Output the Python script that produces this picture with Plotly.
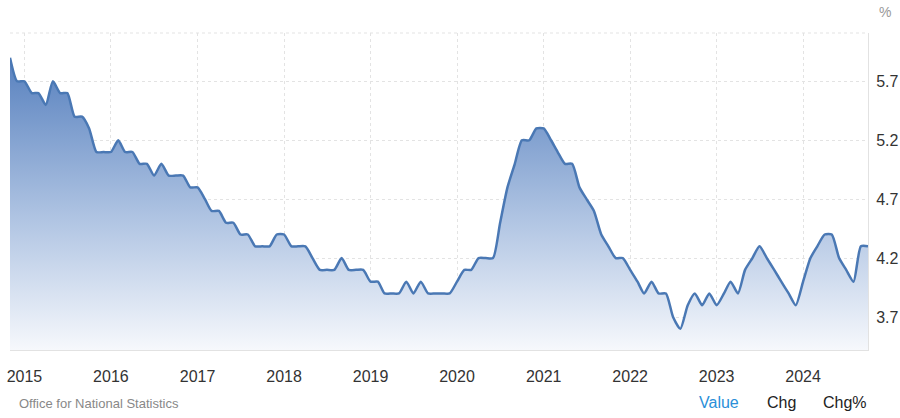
import pandas as pd
import plotly.graph_objects as go

# Monthly observations, Nov 2014 .. Oct 2024
start_month = "2014-11-01"
n_months = 120
months = pd.date_range(start_month, periods=n_months, freq="MS")

unemployment_rate = [
    5.9, 5.7, 5.7, 5.6, 5.6, 5.5, 5.7, 5.6, 5.6, 5.4, 5.4, 5.3,   # Nov14-Oct15
    5.1, 5.1, 5.1, 5.2, 5.1, 5.1, 5.0, 5.0, 4.9, 5.0, 4.9, 4.9,   # Nov15-Oct16
    4.9, 4.8, 4.8, 4.7, 4.6, 4.6, 4.5, 4.5, 4.4, 4.4, 4.3, 4.3,   # Nov16-Oct17
    4.3, 4.4, 4.4, 4.3, 4.3, 4.3, 4.2, 4.1, 4.1, 4.1, 4.2, 4.1,   # Nov17-Oct18
    4.1, 4.1, 4.0, 4.0, 3.9, 3.9, 3.9, 4.0, 3.9, 4.0, 3.9, 3.9,   # Nov18-Oct19
    3.9, 3.9, 4.0, 4.1, 4.1, 4.2, 4.2, 4.2, 4.5, 4.8, 5.0, 5.2,   # Nov19-Oct20
    5.2, 5.3, 5.3, 5.2, 5.1, 5.0, 5.0, 4.8, 4.7, 4.6, 4.4, 4.3,   # Nov20-Oct21
    4.2, 4.2, 4.1, 4.0, 3.9, 4.0, 3.9, 3.9, 3.7, 3.6, 3.8, 3.9,   # Nov21-Oct22
    3.8, 3.9, 3.8, 3.9, 4.0, 3.9, 4.1, 4.2, 4.3, 4.2, 4.1, 4.0,   # Nov22-Oct23
    3.9, 3.8, 4.0, 4.2, 4.3, 4.4, 4.4, 4.2, 4.1, 4.0, 4.3, 4.3,   # Nov23-Oct24
]

year_labels = ["2015", "2016", "2017", "2018", "2019", "2020", "2021", "2022", "2023", "2024"]
year_ticks = [f"{y}-01-01" for y in year_labels]

y_tick_values = [3.7, 4.2, 4.7, 5.2, 5.7]
y_tick_labels = ["3.7", "4.2", "4.7", "5.2", "5.7"]
y_range = [3.42, 6.11]

source_text = "Office for National Statistics"
unit_text = "%"
tab_labels = ["Value", "Chg", "Chg%"]

FONT = "Liberation Sans, Arial, sans-serif"

# plot area in pixels (left, right, top, bottom)
PL, PR, PT, PB = 10, 868, 33, 350


def px_x(p):
    return (p - PL) / (PR - PL)


def px_y(p):
    return (PB - p) / (PB - PT)


fig = go.Figure()
fig.add_trace(go.Scatter(
    x=months,
    y=unemployment_rate,
    mode="lines",
    line=dict(color="#4a78b4", width=2.5, shape="spline", smoothing=0.6),
    fill="tozeroy",
    fillgradient=dict(
        type="vertical",
        colorscale=[[0, "rgb(246,248,252)"], [0.45, "rgb(174,195,226)"], [1, "rgb(84,126,189)"]],
        start=y_range[0],
        stop=5.95,
    ),
    hoverinfo="skip",
    showlegend=False,
))

fig.update_layout(
    width=900,
    height=418,
    margin=dict(l=PL, r=900 - PR, t=PT, b=418 - PB, autoexpand=False),
    paper_bgcolor="white",
    plot_bgcolor="white",
    font=dict(family=FONT, color="#333333"),
    xaxis=dict(
        type="date",
        range=[months[0], months[-1]],
        tickmode="array",
        tickvals=year_ticks,
        ticktext=year_labels,
        tickfont=dict(size=16, color="#333333"),
        showgrid=True,
        gridcolor="#e3e3e3",
        griddash="dot",
        gridwidth=1,
        showline=True,
        linecolor="#e2e2e2",
        linewidth=1,
        ticks="",
        ticklabelstandoff=12,
        zeroline=False,
        fixedrange=True,
    ),
    yaxis=dict(
        side="right",
        range=y_range,
        tickmode="array",
        tickvals=y_tick_values,
        ticktext=y_tick_labels,
        tickfont=dict(size=16, color="#333333"),
        showgrid=True,
        gridcolor="#e3e3e3",
        griddash="dot",
        gridwidth=1,
        showline=True,
        linecolor="#e2e2e2",
        linewidth=1,
        ticks="",
        ticklabelstandoff=4,
        zeroline=False,
        fixedrange=True,
    ),
    shapes=[
        dict(type="line", xref="paper", yref="paper", x0=0, x1=1, y0=1, y1=1,
             line=dict(color="#e3e3e3", width=1, dash="dot")),
    ],
    annotations=[
        dict(text=unit_text, xref="paper", yref="paper", x=px_x(885), y=px_y(12),
             xanchor="center", yanchor="middle", showarrow=False,
             font=dict(family=FONT, size=14, color="#999999")),
        dict(text=source_text, xref="paper", yref="paper", x=px_x(17), y=px_y(403),
             xanchor="left", yanchor="middle", showarrow=False,
             font=dict(family=FONT, size=13, color="#888888")),
        dict(text=tab_labels[0], xref="paper", yref="paper", x=px_x(697), y=px_y(402),
             xanchor="left", yanchor="middle", showarrow=False,
             font=dict(family=FONT, size=16, color="#2a8fd8")),
        dict(text=tab_labels[1], xref="paper", yref="paper", x=px_x(765), y=px_y(402),
             xanchor="left", yanchor="middle", showarrow=False,
             font=dict(family=FONT, size=16, color="#222222")),
        dict(text=tab_labels[2], xref="paper", yref="paper", x=px_x(821), y=px_y(402),
             xanchor="left", yanchor="middle", showarrow=False,
             font=dict(family=FONT, size=16, color="#222222")),
    ],
)

fig.write_html(
    "out.html",
    config={"displayModeBar": False},
    post_script="document.body.style.margin='0';document.body.style.padding='0';",
)
